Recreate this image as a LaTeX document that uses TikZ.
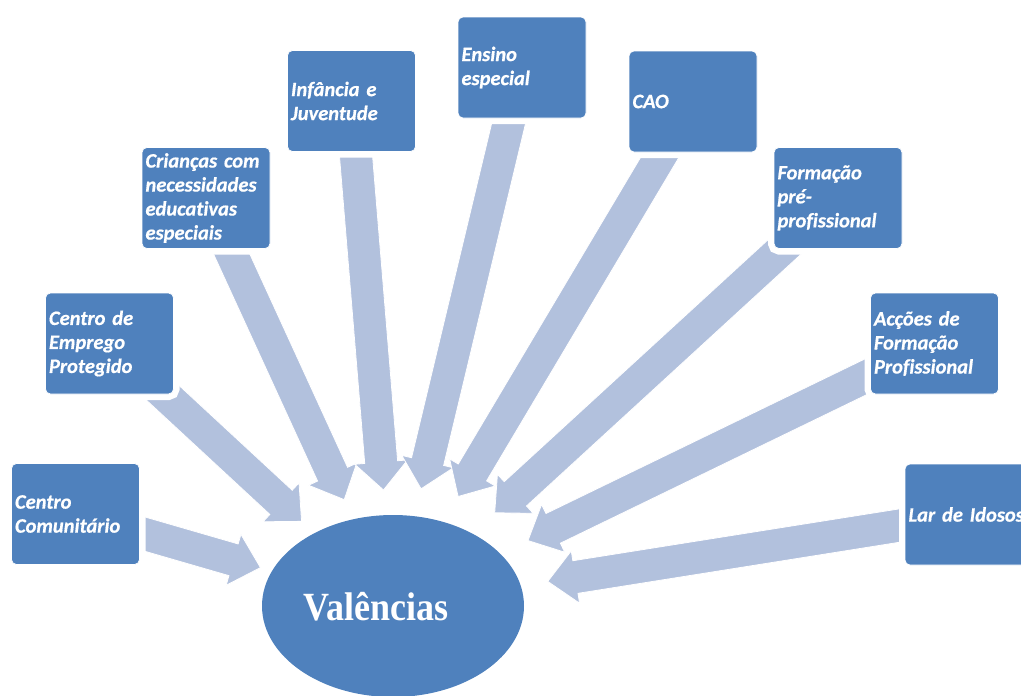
\documentclass[tikz,border=0pt]{standalone}
\usepackage{fontspec}
\setmainfont{Carlito}
\newfontfamily\boxfont[FakeBold=0.6,Ligatures=NoCommon]{Carlito}
\newfontfamily\valfont{Liberation Serif}
\usetikzlibrary{shapes.geometric,calc}
\definecolor{boxblue}{HTML}{4F81BD}
\definecolor{arrowblue}{HTML}{B2C1DD}
\pgfdeclarelayer{bg}
\pgfsetlayers{bg,main}
% #1 = source box, #2 = distance of the tip from the centre of the ellipse
\newcommand\blockarrow[2]{%
  \coordinate (s) at (#1.center);
  \coordinate (t) at ($(v.center)!#2pt!(#1.center)$);
  \coordinate (h) at ($(t)!28pt!(s)$);
  \filldraw[arrowshape]
    ($(s)!16.5pt!90:(t)$) -- ($(h)!16.5pt!90:(t)$) -- ($(h)!26.5pt!90:(t)$)
    -- (t)
    -- ($(h)!26.5pt!-90:(t)$) -- ($(h)!16.5pt!-90:(t)$) -- ($(s)!16.5pt!-90:(t)$)
    -- cycle;
}
\begin{document}
\begin{tikzpicture}[x=1pt,y=-1pt,
  box/.style={rectangle, rounded corners=5pt, fill=boxblue, draw=white, line width=0.7pt,
    preaction={draw=white, line width=12pt},
    minimum width=128pt, minimum height=101pt, text width=121pt, inner xsep=3.5pt,
    align=left, text=white, font=\boxfont\fontsize{20.5}{24}\selectfont\bfseries\itshape},
  arrowshape/.style={fill=arrowblue, draw=white, line width=0.8pt, line join=miter}]
\useasboundingbox (0,0) rectangle (1021,696);
\clip (0,0) rectangle (1021,696);
\node[box] (cc) at (75.5,514) {Centro\\Comunitário};
\node[box] (cep) at (109.5,343.5) {Centro de\\Emprego\\Protegido};
\node[box] (cri) at (206,198) {Crianças com\\necessidades\\educativas\\especiais};
\node[box] (inf) at (351.5,101) {Infância e\\Juventude};
\node[box] (ens) at (522,67.5) {Ensino\\especial};
\node[box] (cao) at (693,101.5) {CAO};
\node[box] (fpp) at (838,198) {Formação\\pré-\\profissional};
\node[box] (afp) at (934.5,343.5) {Acções de\\Formação\\Profissional};
\node[box] (lar) at (969,514.5) {Lar de Idosos};
\node[ellipse, fill=boxblue, minimum width=262pt, minimum height=182pt, inner sep=0pt] (v) at (393,606) {};
\node[font=\valfont\bfseries\fontsize{40}{40}\selectfont, text=white, anchor=base, inner sep=0pt] (vt) at (376,620) {\scalebox{0.9}[1]{Valências}};
\begin{pgfonlayer}{bg}
\blockarrow{cc}{138}
\blockarrow{cep}{124.6}
\blockarrow{cri}{117}
\blockarrow{inf}{116.4}
\blockarrow{ens}{120.5}
\blockarrow{cao}{127.4}
\blockarrow{fpp}{138}
\blockarrow{afp}{150}
\blockarrow{lar}{156.7}
\end{pgfonlayer}
\end{tikzpicture}
\end{document}
